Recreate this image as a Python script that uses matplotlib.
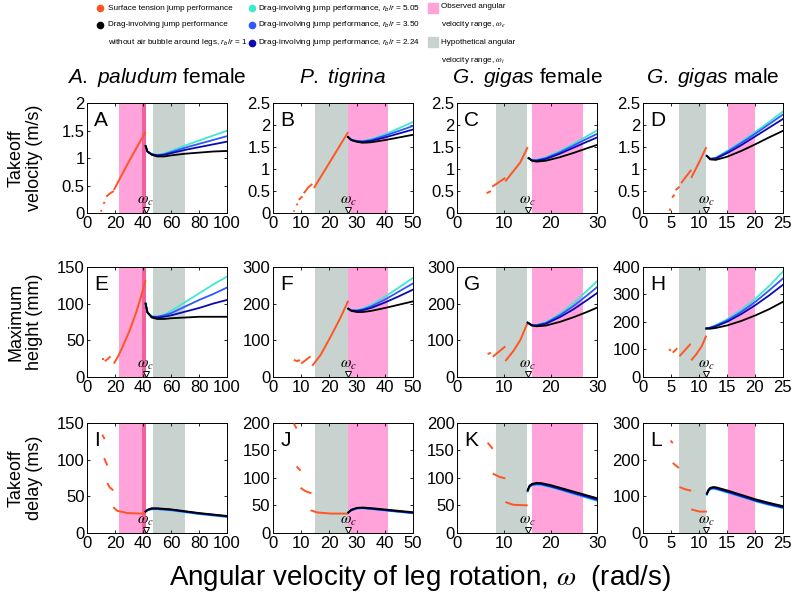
"""Jump performance vs angular velocity of leg rotation for four water striders (3x4 panels)."""

import matplotlib

matplotlib.use("Agg")
import matplotlib.pyplot as plt  # noqa: E402

plt.rcParams["font.family"] = ["Liberation Sans", "DejaVu Sans"]
plt.rcParams["mathtext.fontset"] = "custom"
plt.rcParams["mathtext.rm"] = "Liberation Sans"
plt.rcParams["mathtext.it"] = "Liberation Sans:italic"

ORANGE = "#FF5522"
CYAN = "#3FE8CF"
BLUE = "#3058FF"
DBLUE = "#0A0AB0"
PINK = "#FFA3DA"
HOTPINK = "#F0609A"
GRAY = "#C8D2CF"

# ---- column (species) settings ----
species = ["A. paludum", "P. tigrina", "G. gigas", "G. gigas"]
species_suffix = [" female", "", " female", " male"]
x_max = [100, 50, 30, 25]
x_step = [20, 10, 10, 5]
omega_c = [41.7, 26.8, 15.1, 11.3]
obs_range = [(23, 41.7), (26.8, 41), (16.1, 27), (15.1, 20)]
hyp_range = [(47, 70), (15, 26.8), (8.3, 14.9), (6.5, 11.2)]

# ---- row (quantity) settings ----
row_labels = ["Takeoff\nvelocity (m/s)", "Maximum\nheight (mm)", "Takeoff\ndelay (ms)"]
y_max = [[2, 2.5, 2.5, 2.5], [150, 300, 300, 400], [150, 200, 200, 300]]
y_step = [[0.5, 0.5, 0.5, 0.5], [50, 100, 100, 100], [50, 50, 50, 100]]

# ---- surface tension jump segments (orange) ----
A_st = [[(9.5, 0.03), (10.5, 0.05)], [(11.5, 0.17), (12.5, 0.2)],
        [(13.5, 0.3), (15, 0.33), (17, 0.37), (19, 0.4)], [(19, 0.42), (30, 0.95), (41.7, 1.48)]]
B_st = [[(7.3, 0.03), (7.6, 0.06)], [(8.3, 0.18), (8.8, 0.21)], [(9.2, 0.3), (10.5, 0.38)],
        [(11, 0.45), (12.5, 0.58), (14, 0.66)], [(14.6, 0.57), (20, 1.13), (26.8, 1.84)]]
C_st = [[(6.3, 0.45), (7.2, 0.5)], [(7.5, 0.6), (10.3, 0.8)],
        [(10.3, 0.72), (12, 0.95), (13.5, 1.15), (15.1, 1.5)]]
D_st = [[(4.75, 0.05), (4.85, 0.1)], [(5.2, 0.35), (5.6, 0.42)], [(5.8, 0.52), (6.5, 0.6)],
        [(6.8, 0.68), (7.5, 0.8), (8.6, 0.98)], [(8.6, 0.8), (10, 1.15), (11.3, 1.5)]]
E_st = [[(10.5, 24), (12, 24.5)], [(12.5, 21.5), (14.5, 24), (16.5, 28)],
        [(19, 18), (22, 28), (25, 40), (30, 62), (35, 88), (38.5, 110), (41.7, 132)]]
F_st = [[(7.4, 46), (8.6, 43)], [(8.4, 42), (9.6, 46)], [(10, 36), (13.4, 56)],
        [(14, 30), (17, 60), (20.6, 110), (24, 160), (26.9, 208)]]
G_st = [[(6.5, 62), (7.2, 66)], [(7.6, 55), (10.3, 83)],
        [(10.3, 43), (12, 70), (13.5, 100), (15.1, 148)]]
H_st = [[(4.6, 100), (5.0, 96)], [(5.3, 88), (6.1, 104)], [(6.5, 75), (8.5, 120)],
        [(8.6, 60), (9.5, 82), (10.5, 112), (11.3, 150)]]
I_st = [[(10.7, 134), (12.4, 128)], [(12, 102), (14.3, 92)], [(14.3, 68), (16, 62), (18.6, 58)],
        [(18.6, 35), (21.4, 30), (28.6, 27), (41.7, 26)]]
J_st = [[(7.4, 199), (8.4, 190)], [(8.4, 121), (9.8, 113)], [(9.8, 82), (11.5, 76), (13.7, 72)],
        [(13.4, 41), (15.8, 37), (20.6, 35), (26.9, 35)]]
K_st = [[(6.5, 164), (7.6, 153)], [(7.6, 108), (9, 102), (10.3, 99)],
        [(10.3, 56), (12, 51), (15.1, 50)]]
L_st = [[(4.9, 252), (5.3, 245)], [(5.3, 191), (6.4, 177)], [(6.5, 125), (7.5, 119), (8.6, 115)],
        [(8.6, 64), (10.1, 58), (11.4, 58)]]

# ---- drag-involving jump curves: omega and r_b/r = 1, 2.24, 3.50, 5.05 ----
A_w = [41.7, 43, 46, 50, 55, 60, 70, 80, 90, 100]
A_k1 = [1.22, 1.12, 1.06, 1.03, 1.03, 1.05, 1.08, 1.10, 1.12, 1.13]
A_k224 = [1.22, 1.12, 1.07, 1.05, 1.06, 1.09, 1.15, 1.20, 1.25, 1.30]
A_k350 = [1.22, 1.12, 1.07, 1.05, 1.07, 1.11, 1.19, 1.26, 1.33, 1.40]
A_k505 = [1.22, 1.12, 1.08, 1.06, 1.08, 1.13, 1.23, 1.32, 1.41, 1.50]

B_w = [26.8, 28, 30, 32, 35, 40, 45, 50]
B_k1 = [1.73, 1.66, 1.62, 1.60, 1.61, 1.66, 1.72, 1.78]
B_k224 = [1.73, 1.66, 1.63, 1.62, 1.64, 1.72, 1.81, 1.90]
B_k350 = [1.73, 1.67, 1.64, 1.63, 1.66, 1.76, 1.87, 1.98]
B_k505 = [1.73, 1.67, 1.64, 1.64, 1.68, 1.79, 1.93, 2.07]

C_w = [15.3, 16, 17, 19, 22, 25, 28, 30]
C_k1 = [1.25, 1.19, 1.17, 1.19, 1.27, 1.37, 1.48, 1.55]
C_k224 = [1.25, 1.20, 1.19, 1.23, 1.35, 1.49, 1.63, 1.72]
C_k350 = [1.25, 1.20, 1.20, 1.25, 1.38, 1.54, 1.70, 1.80]
C_k505 = [1.25, 1.21, 1.21, 1.27, 1.41, 1.58, 1.76, 1.88]

D_w = [11.4, 12, 13, 15, 17.5, 20, 22.5, 25]
D_k1 = [1.30, 1.22, 1.21, 1.28, 1.41, 1.56, 1.72, 1.87]
D_k224 = [1.30, 1.23, 1.24, 1.36, 1.54, 1.74, 1.94, 2.14]
D_k350 = [1.30, 1.23, 1.25, 1.39, 1.59, 1.80, 2.02, 2.24]
D_k505 = [1.30, 1.24, 1.26, 1.41, 1.62, 1.84, 2.07, 2.31]

E_w = [41.7, 43, 46, 50, 55, 60, 70, 80, 90, 100]
E_k1 = [100, 88, 81, 79, 79, 80, 81, 82, 82, 82]
E_k224 = [100, 88, 82, 81, 82, 84, 89, 94, 100, 105]
E_k350 = [100, 88, 82, 82, 84, 87, 96, 105, 113, 122]
E_k505 = [100, 88, 83, 82, 85, 90, 102, 114, 126, 137]

F_w = [26.9, 28, 30, 32, 35, 40, 45, 50]
F_k1 = [186, 180, 177, 177, 180, 188, 197, 206]
F_k224 = [186, 181, 180, 182, 188, 203, 220, 238]
F_k350 = [186, 181, 181, 184, 192, 211, 233, 255]
F_k505 = [186, 182, 182, 186, 196, 219, 244, 270]

G_w = [15.1, 16, 17, 19, 22, 25, 28, 30]
G_k1 = [148, 140, 138, 140, 150, 163, 178, 189]
G_k224 = [148, 141, 140, 145, 163, 185, 211, 229]
G_k350 = [148, 141, 141, 147, 168, 194, 224, 245]
G_k505 = [148, 142, 142, 149, 172, 202, 237, 261]

H_w = [11.3, 12, 13, 15, 17.5, 20, 22.5, 25]
H_k1 = [176, 175, 178, 187, 203, 223, 246, 273]
H_k224 = [176, 178, 184, 200, 228, 260, 296, 335]
H_k350 = [176, 179, 186, 205, 236, 272, 314, 358]
H_k505 = [176, 180, 188, 209, 243, 283, 330, 383]

I_w = [41.7, 43, 46, 50, 60, 70, 80, 90, 100]
I_k1 = [29, 31.5, 33.5, 33.5, 32, 29.5, 27, 25, 23]
I_k224 = [29, 31, 33, 33, 31.5, 29, 26.5, 24.5, 22.5]
I_k350 = [29, 31, 32.5, 32.5, 31, 28.5, 26, 24, 22]
I_k505 = [29, 30.5, 32, 32, 30.5, 28, 25.5, 23.5, 21.5]

J_w = [26.9, 28, 30, 32, 35, 40, 45, 50]
J_k1 = [37, 42, 45.5, 46, 45, 42.5, 40, 37.5]
J_k224 = [37, 41.5, 45, 45.5, 44, 41.5, 39, 36.5]
J_k350 = [37, 41, 44.5, 45, 43.5, 41, 38.5, 36]
J_k505 = [37, 41, 44, 44.5, 43, 40.5, 38, 35.5]

K_w = [15.1, 15.5, 16, 17, 18, 20, 22.5, 25, 27.5, 30]
K_k1 = [78, 86, 89, 91, 90.5, 87, 81, 75, 69, 63]
K_k224 = [77, 85, 88, 89.5, 89, 85, 79, 73, 67, 61]
K_k350 = [76, 84, 87, 88.5, 88, 84, 78, 71.5, 65.5, 59.5]
K_k505 = [75, 83, 86, 87.5, 87, 83, 77, 70.5, 64.5, 58]

L_w = [11.4, 11.7, 12, 12.5, 13, 15, 17.5, 20, 22.5, 25]
L_k1 = [108, 118, 123, 125, 124.5, 116, 104, 92, 82, 73]
L_k224 = [106, 116, 121, 123, 122, 113, 101, 89, 79, 70]
L_k350 = [105, 115, 120, 121.5, 120.5, 111.5, 99.5, 87.5, 77.5, 68.5]
L_k505 = [104, 114, 118.5, 120, 119, 110, 98, 86, 76, 67]

letters = "ABCDEFGHIJKL"
st_data = [A_st, B_st, C_st, D_st, E_st, F_st, G_st, H_st, I_st, J_st, K_st, L_st]
drag_w = [A_w, B_w, C_w, D_w, E_w, F_w, G_w, H_w, I_w, J_w, K_w, L_w]
drag_k505 = [A_k505, B_k505, C_k505, D_k505, E_k505, F_k505, G_k505, H_k505, I_k505, J_k505, K_k505, L_k505]
drag_k350 = [A_k350, B_k350, C_k350, D_k350, E_k350, F_k350, G_k350, H_k350, I_k350, J_k350, K_k350, L_k350]
drag_k224 = [A_k224, B_k224, C_k224, D_k224, E_k224, F_k224, G_k224, H_k224, I_k224, J_k224, K_k224, L_k224]
drag_k1 = [A_k1, B_k1, C_k1, D_k1, E_k1, F_k1, G_k1, H_k1, I_k1, J_k1, K_k1, L_k1]

fig = plt.figure(figsize=(7.94, 6.0), dpi=100)
lefts = [0.110, 0.344, 0.576, 0.810]
bottoms = [0.645, 0.372, 0.112]
W, H = 0.176, 0.183

for r in range(3):
    for c in range(4):
        i = r * 4 + c
        ax = fig.add_axes([lefts[c], bottoms[r], W, H])
        ax.axvspan(*obs_range[c], color=PINK, lw=0, zorder=0)
        ax.axvspan(*hyp_range[c], color=GRAY, lw=0, zorder=0)
        if c == 0:
            ax.axvspan(39, obs_range[c][1], color=HOTPINK, lw=0, zorder=0)
        for seg in st_data[i]:
            xs, ys = zip(*seg)
            ax.plot(xs, ys, color=ORANGE, lw=1.4, solid_capstyle="butt", zorder=3)
        for ys, col in [(drag_k505[i], CYAN), (drag_k350[i], BLUE),
                        (drag_k224[i], DBLUE), (drag_k1[i], "black")]:
            ax.plot(drag_w[i], ys, color=col, lw=1.3, zorder=3)

        ax.set_xlim(0, x_max[c])
        ax.set_ylim(0, y_max[r][c])
        ax.set_xticks(range(0, x_max[c] + 1, x_step[c]))
        ystep = y_step[r][c]
        nt = int(round(y_max[r][c] / ystep))
        yt = [k * ystep for k in range(nt + 1)]
        ax.set_yticks(yt)
        ax.set_yticklabels([f"{v:g}" for v in yt])
        ax.tick_params(direction="in", length=2.5, width=0.6, labelsize=12, pad=2,
                       top=True, right=True)
        for sp in ax.spines.values():
            sp.set_linewidth(0.7)

        ax.text(0.05, 0.93, letters[i], transform=ax.transAxes, fontsize=15,
                ha="left", va="top", zorder=5)

        # critical angular velocity marker
        ax.plot([omega_c[c]], [0.025], transform=ax.get_xaxis_transform(), marker="v",
                ms=4.5, mfc="white", mec="black", mew=0.7, clip_on=False, zorder=6)
        ax.text(omega_c[c], 0.11, r"$\omega_c$", transform=ax.get_xaxis_transform(),
                ha="center", va="center", fontsize=11, math_fontfamily="stix", zorder=6)

        if r == 0:
            ax.text(0.5, 1.23, rf"$\mathit{{{species[c].replace(' ', chr(92) + ' ')}}}${species_suffix[c]}",
                    transform=ax.transAxes, ha="center", va="center", fontsize=15)

for r in range(3):
    yc = bottoms[r] + H / 2
    fig.text(25 / 794, yc, row_labels[r], rotation=90, ha="center", va="center",
             multialignment="center", fontsize=13, linespacing=1.1)

fig.text(420 / 794, 1 - 578 / 600, r"Angular velocity of leg rotation, $\omega$  (rad/s)",
         ha="center", va="center", fontsize=20, math_fontfamily="stix")

# legend drawn in pixel coordinates on an overlay
lax = fig.add_axes([0, 0, 1, 1])
lax.set_xlim(0, 794)
lax.set_ylim(600, 0)
lax.axis("off")
dots = [(100, 8, ORANGE), (100, 25, "black"), (252, 8, CYAN), (252, 25, BLUE), (252, 43, DBLUE)]
for x, y, col in dots:
    lax.plot(x, y, "o", color=col, ms=4.5)
leg_texts = [
    (108, 8, "Surface tension jump performance"),
    (108, 25, "Drag-involving jump performance"),
    (108, 42, r"without air bubble around legs, $r_b/r$ = 1"),
    (258, 8, r"Drag-involving jump performance, $r_b/r$ = 5.05"),
    (258, 25, r"Drag-involving jump performance, $r_b/r$ = 3.50"),
    (258, 43, r"Drag-involving jump performance, $r_b/r$ = 2.24"),
    (441, 7, "Observed angular"),
    (441, 25, r"velocity range, $\omega_e$"),
    (441, 42, "Hypothetical angular"),
    (441, 60, r"velocity range, $\omega_t$"),
]
for x, y, s in leg_texts:
    mf = "stix" if "omega" in s else "custom"
    lax.text(x, y, s, ha="left", va="center", fontsize=5.9, math_fontfamily=mf)
lax.plot(433, 8, "s", color=PINK, ms=7.5)
lax.plot(433, 42, "s", color=GRAY, ms=7.5)

fig.savefig("out.png", dpi=100)
plt.close(fig)
